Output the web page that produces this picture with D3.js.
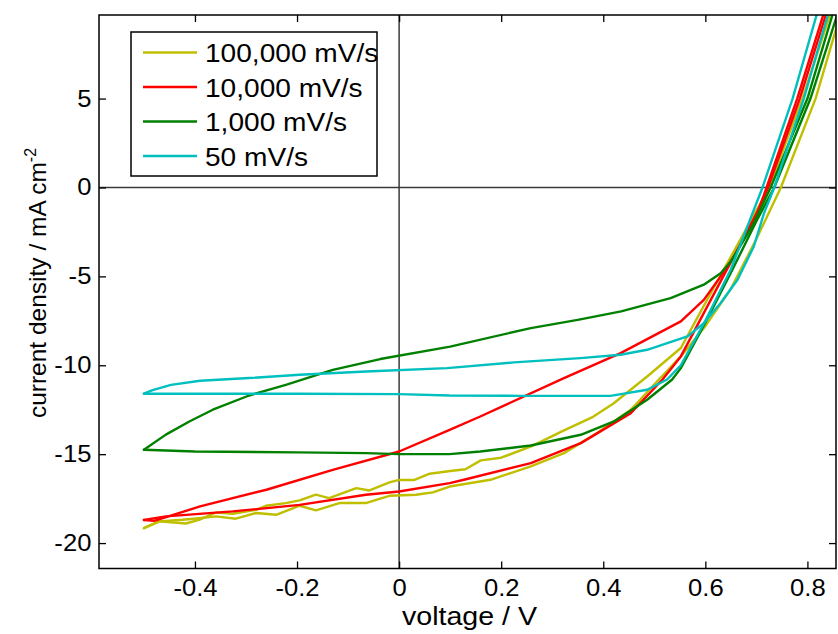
<!DOCTYPE html>
<html>
<head>
<meta charset="utf-8">
<script src="https://cdn.jsdelivr.net/npm/d3@7"></script>
<style>
  html, body { margin: 0; padding: 0; background: #fff; }
  svg { display: block; }
  text { font-family: "Liberation Sans", Arial, Helvetica, sans-serif; fill: #000; }
</style>
</head>
<body>
<svg id="chart" width="838" height="634"></svg>
<script>
// ---------------- data ----------------
const seriesNames = ["100,000 mV/s", "10,000 mV/s", "1,000 mV/s", "50 mV/s"];

const xTicks = [-0.4, -0.2, 0, 0.2, 0.4, 0.6, 0.8];
const xTickLabels = ["-0.4", "-0.2", "0", "0.2", "0.4", "0.6", "0.8"];
const yTicks = [-20, -15, -10, -5, 0, 5];
const yTickLabels = ["-20", "-15", "-10", "-5", "0", "5"];
const xDomain = [-0.588, 0.856];
const yDomain = [-21.43, 9.70];

// 100,000 mV/s
const v100kA = [-0.5, -0.47, -0.418, -0.392, -0.359, -0.326, -0.28, -0.261, -0.222, -0.195, -0.163, -0.137, -0.084, -0.058, -0.019, 0.0, 0.03, 0.06, 0.1, 0.13, 0.16, 0.2, 0.26, 0.32, 0.38, 0.42, 0.486, 0.552, 0.6, 0.65, 0.7, 0.725, 0.79, 0.844, 0.865];
const j100kA = [-19.16, -18.78, -18.9, -18.69, -18.28, -18.35, -18.13, -17.9, -17.75, -17.6, -17.28, -17.47, -16.91, -17.04, -16.59, -16.45, -16.45, -16.1, -15.95, -15.85, -15.35, -15.2, -14.55, -13.7, -12.9, -12.15, -10.63, -9.03, -6.5, -3.9, -1.3, 0, 5, 9.7, 11.2];
const v100kB = [-0.5, -0.47, -0.424, -0.392, -0.359, -0.32, -0.28, -0.241, -0.195, -0.163, -0.117, -0.065, -0.045, -0.019, 0.033, 0.066, 0.099, 0.179, 0.258, 0.323, 0.388, 0.454, 0.509, 0.552, 0.6, 0.65, 0.7, 0.748, 0.816, 0.856, 0.87];
const j100kB = [-19.16, -18.78, -18.69, -18.6, -18.5, -18.63, -18.31, -18.41, -17.9, -18.16, -17.75, -17.75, -17.57, -17.34, -17.28, -17.15, -16.82, -16.44, -15.69, -14.94, -13.81, -12.5, -10.8, -9.5, -7.8, -5.7, -2.9, 0, 5, 8.9, 10];

// 10,000 mV/s
const v10kA = [-0.5, -0.48, -0.39, -0.26, -0.13, 0, 0.099, 0.159, 0.323, 0.434, 0.552, 0.597, 0.63, 0.656, 0.682, 0.705, 0.72, 0.78, 0.831, 0.85];
const j10kA = [-18.7, -18.75, -17.94, -17.0, -15.88, -14.85, -13.63, -12.88, -10.72, -9.32, -7.53, -6.32, -5.0, -3.88, -2.56, -1.2, 0, 5, 9.7, 11.2];
const v10kB = [-0.5, -0.457, -0.326, -0.195, -0.065, 0, 0.099, 0.127, 0.258, 0.356, 0.454, 0.516, 0.552, 0.6, 0.65, 0.7, 0.723, 0.785, 0.836, 0.855];
const j10kB = [-18.7, -18.5, -18.22, -17.85, -17.28, -17.1, -16.63, -16.44, -15.5, -14.38, -12.69, -10.8, -9.5, -6.9, -4.2, -1.5, 0, 5, 9.7, 11.2];

// 1,000 mV/s
const v1kA = [-0.5, -0.457, -0.411, -0.365, -0.294, -0.222, -0.13, -0.037, 0.1, 0.258, 0.35, 0.435, 0.532, 0.597, 0.63, 0.65, 0.676, 0.695, 0.728, 0.8, 0.849, 0.865];
const j1kA = [-14.75, -13.9, -13.16, -12.5, -11.7, -11.1, -10.26, -9.65, -8.95, -7.91, -7.45, -6.97, -6.22, -5.47, -4.82, -4.16, -2.94, -2.0, 0, 5, 9.7, 10.8];
const v1kB = [-0.5, -0.4, -0.2, -0.065, 0, 0.099, 0.159, 0.258, 0.356, 0.421, 0.486, 0.535, 0.552, 0.6, 0.65, 0.7, 0.735, 0.806, 0.856, 0.87];
const j1kB = [-14.75, -14.85, -14.9, -14.94, -15.0, -15.0, -14.85, -14.51, -13.91, -13.16, -11.94, -10.8, -10.16, -7.6, -4.8, -1.9, 0, 5, 9.5, 10.6];

// 50 mV/s
const v50A = [-0.5, -0.483, -0.447, -0.39, -0.294, -0.195, -0.065, 0.094, 0.225, 0.355, 0.434, 0.486, 0.565, 0.597, 0.63, 0.663, 0.695, 0.715, 0.735, 0.793, 0.84, 0.86];
const j50A = [-11.6, -11.4, -11.1, -10.87, -10.72, -10.53, -10.35, -10.16, -9.84, -9.6, -9.41, -9.13, -8.38, -7.63, -6.5, -5.19, -3.32, -1.44, 0, 5, 9.7, 11.5];
const v50B = [-0.5, -0.2, 0.0, 0.099, 0.238, 0.414, 0.486, 0.525, 0.552, 0.6, 0.65, 0.712, 0.771, 0.818, 0.84];
const j50B = [-11.6, -11.6, -11.62, -11.7, -11.72, -11.72, -11.38, -10.8, -10.0, -7.5, -4.6, 0, 5, 9.7, 11.5];

// ---------------- styles / layout ----------------
const seriesColors = ["#bfbf00", "#ff0000", "#008000", "#00bfbf"];
const branches = [
  [[v100kA, j100kA], [v100kB, j100kB]],
  [[v10kA, j10kA], [v10kB, j10kB]],
  [[v1kA, j1kA], [v1kB, j1kB]],
  [[v50A, j50A], [v50B, j50B]]
];

const M = { left: 99, top: 15, right: 836, bottom: 568.5 };
const W = M.right - M.left, H = M.bottom - M.top;
const tickFont = 23.5, tickStretch = 1.09;

const svg = d3.select("#chart");
const x = d3.scaleLinear().domain(xDomain).range([M.left, M.right]);
const y = d3.scaleLinear().domain(yDomain).range([M.bottom, M.top]);

svg.append("defs").append("clipPath").attr("id", "clip")
  .append("rect").attr("x", M.left).attr("y", M.top).attr("width", W).attr("height", H);

// zero lines
const g0 = svg.append("g").attr("clip-path", "url(#clip)");
g0.append("line").attr("x1", x(0)).attr("x2", x(0)).attr("y1", M.top).attr("y2", M.bottom)
  .attr("stroke", "#3a3a3a").attr("stroke-width", 1.5);
g0.append("line").attr("x1", M.left).attr("x2", M.right).attr("y1", y(0)).attr("y2", y(0))
  .attr("stroke", "#3a3a3a").attr("stroke-width", 1.5);

// curves
const line = d3.line().x(d => x(d[0])).y(d => y(d[1]));
const gc = svg.append("g").attr("clip-path", "url(#clip)");
branches.forEach((br, i) => {
  br.forEach(([vs, js]) => {
    const pts = vs.map((v, k) => [v, js[k]]);
    gc.append("path").attr("d", line(pts)).attr("fill", "none")
      .attr("stroke", seriesColors[i]).attr("stroke-width", 2.4)
      .attr("stroke-linejoin", "round").attr("stroke-linecap", "round");
  });
});

// axes (MATLAB style: inward ticks, box)
const tickLen = 7;
const axBottom = d3.axisBottom(x).tickValues(xTicks).tickFormat((d, i) => xTickLabels[i]).tickSizeInner(-tickLen).tickSizeOuter(0).tickPadding(11);
const axTop = d3.axisTop(x).tickValues(xTicks).tickFormat("").tickSizeInner(-tickLen).tickSizeOuter(0);
const axLeft = d3.axisLeft(y).tickValues(yTicks).tickFormat((d, i) => yTickLabels[i]).tickSizeInner(-tickLen).tickSizeOuter(0).tickPadding(7);
const axRight = d3.axisRight(y).tickValues(yTicks).tickFormat("").tickSizeInner(-tickLen).tickSizeOuter(0);

function styleAxis(g) {
  g.select(".domain").remove();
  g.selectAll(".tick line").attr("stroke", "#000").attr("stroke-width", 1.3);
  g.selectAll(".tick text").attr("font-size", tickFont)
    .attr("font-family", '"Liberation Sans", Arial, sans-serif').attr("fill", "#000")
    .attr("transform", `scale(${tickStretch},1)`);
}
svg.append("g").attr("transform", `translate(0,${M.bottom})`).call(axBottom).call(styleAxis);
svg.append("g").attr("transform", `translate(0,${M.top})`).call(axTop).call(styleAxis);
svg.append("g").attr("transform", `translate(${M.left},0)`).call(axLeft).call(styleAxis);
svg.append("g").attr("transform", `translate(${M.right},0)`).call(axRight).call(styleAxis);

svg.append("rect").attr("x", M.left).attr("y", M.top).attr("width", W).attr("height", H)
  .attr("fill", "none").attr("stroke", "#000").attr("stroke-width", 1.5);

// axis labels
svg.append("text").attr("transform", `translate(${(M.left + M.right) / 2 + 2},625) scale(1.1,1)`)
  .attr("text-anchor", "middle").attr("font-size", 26).text("voltage / V");

const yl = svg.append("text").attr("transform", `translate(46,283) rotate(-90)`)
  .attr("text-anchor", "middle").attr("font-size", 24.5);
yl.append("tspan").text("current density / mA cm");
yl.append("tspan").attr("font-size", 16).attr("dy", -10).text("-2");

// legend
const L = { x: 131, y: 32, w: 246, h: 144 };
const lg = svg.append("g");
lg.append("rect").attr("x", L.x).attr("y", L.y).attr("width", L.w).attr("height", L.h)
  .attr("fill", "#fff").attr("stroke", "#000").attr("stroke-width", 1.5);
const rowY = d3.scaleLinear().domain([0, 3]).range([52.5, 156]);
seriesNames.forEach((name, i) => {
  lg.append("line").attr("x1", 143).attr("x2", 197).attr("y1", rowY(i)).attr("y2", rowY(i))
    .attr("stroke", seriesColors[i]).attr("stroke-width", 2.4);
  lg.append("text").attr("transform", `translate(205,${rowY(i)}) scale(1.06,1)`).attr("dy", "0.36em")
    .attr("font-size", 26.5).text(name);
});
</script>
</body>
</html>
